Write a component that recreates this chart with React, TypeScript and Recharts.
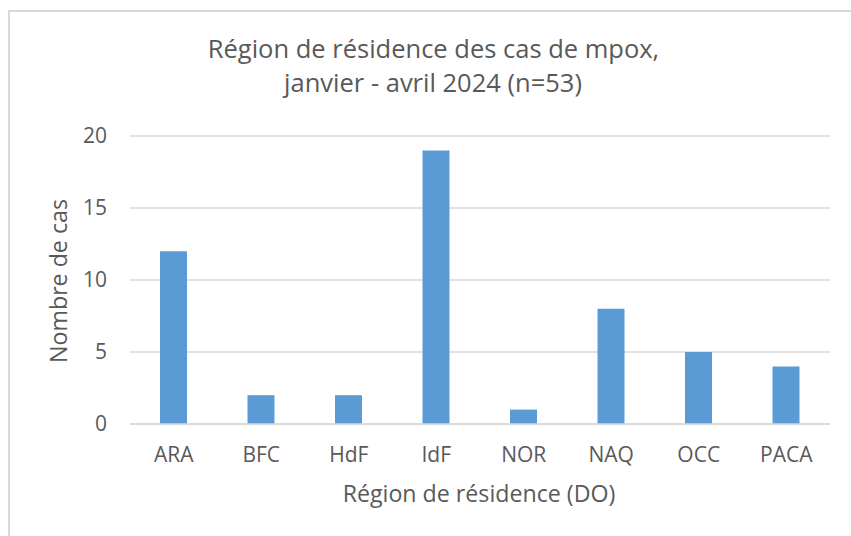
import React from 'react';
import { BarChart, Bar, XAxis, YAxis, CartesianGrid } from 'recharts';

const regions = ['ARA', 'BFC', 'HdF', 'IdF', 'NOR', 'NAQ', 'OCC', 'PACA'];
const cases = [12, 2, 2, 19, 1, 8, 5, 4];
const yTicks = [0, 5, 10, 15, 20];
const titleLines = ['Région de résidence des cas de mpox,', 'janvier - avril 2024 (n=53)'];
const yLabel = 'Nombre de cas';
const xLabel = 'Région de résidence (DO)';

const data = regions.map((r, i) => ({ region: r, cas: cases[i] }));

const FONT = '"Open Sans", Carlito, Lato, sans-serif';
const TXT = '#595959';

export default function App() {
  return (
    <div style={{ position: 'absolute', left: 0, top: 0, width: 851, height: 536, background: '#fff', fontFamily: FONT, overflow: 'hidden' }}>
      <div style={{ position: 'absolute', left: 8, top: 10, width: 900, height: 600, borderLeft: '2px solid #d9d9d9', borderTop: '2px solid #d9d9d9' }} />
      <div style={{ position: 'absolute', left: 0, top: 0 }}>
        <BarChart width={851} height={536} data={data} margin={{ top: 136, right: 21, bottom: 0, left: 0 }}>
          <CartesianGrid vertical={false} stroke="#d9d9d9" strokeWidth={1.3} />
          <XAxis
            dataKey="region"
            height={112}
            axisLine={{ stroke: '#d9d9d9', strokeWidth: 1.5 }}
            tickLine={false}
            tickSize={0}
            tickMargin={23}
            tick={{ fill: TXT, fontSize: 21, fontFamily: FONT }}
            interval={0}
          />
          <YAxis
            width={130}
            domain={[0, 20]}
            ticks={yTicks}
            axisLine={false}
            tickLine={false}
            tickSize={0}
            tickMargin={23}
            tick={{ fill: TXT, fontSize: 21, fontFamily: FONT }}
          />
          <Bar dataKey="cas" fill="#5B9BD5" barSize={27} isAnimationActive={false} />
        </BarChart>
      </div>
      <svg width={851} height={536} style={{ position: 'absolute', left: 0, top: 0, pointerEvents: 'none' }}>
        <text x={433.5} y={58} textAnchor="middle" fill={TXT} fontSize={25.5} fontFamily={FONT}>{titleLines[0]}</text>
        <text x={433} y={92} textAnchor="middle" fill={TXT} fontSize={25.5} fontFamily={FONT}>{titleLines[1]}</text>
        <text x={479} y={502} textAnchor="middle" fill={TXT} fontSize={23.2} fontFamily={FONT}>{xLabel}</text>
        <text transform="translate(67,281) rotate(-90)" x={0} y={0} textAnchor="middle" fill={TXT} fontSize={23.2} fontFamily={FONT}>{yLabel}</text>
      </svg>
    </div>
  );
}
